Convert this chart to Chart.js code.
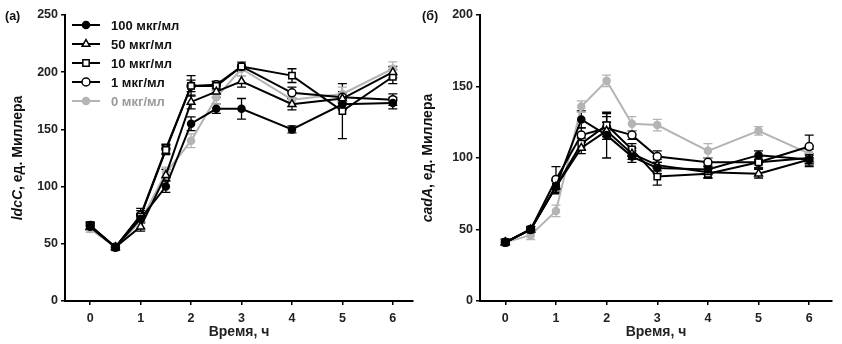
<!DOCTYPE html>
<html>
<head>
<meta charset="utf-8">
<script src="https://cdn.jsdelivr.net/npm/chart.js@4/dist/chart.umd.min.js"></script>
<style>
  body { margin: 0; background: #fff; }
  .panel { position: absolute; top: 0; }
</style>
</head>
<body>
<div class="panel" style="left:0"><canvas id="chart_ldc" width="420" height="344"></canvas></div>
<div class="panel" style="left:420px"><canvas id="chart_cad" width="422" height="344"></canvas></div>
<script>
// time points, hours
const times = [0, 0.5, 1, 1.5, 2, 2.5, 3, 4, 5, 6]
const xTicks = [0, 1, 2, 3, 4, 5, 6]
const seriesNames = ['100 мкг/мл', '50 мкг/мл', '10 мкг/мл', '1 мкг/мл', '0 мкг/мл']

// (a) ldcC, Miller units
const ldcTicks = [0, 50, 100, 150, 200, 250]
const ldc100 = [65, 47, 72, 100, 155, 168, 168, 150, 172, 173]
const ldc50 = [65, 47, 65, 110, 174, 183, 192, 172, 177, 200]
const ldc10 = [66, 47, 74, 132, 188, 188, 205, 197, 166, 196]
const ldc1 = [66, 47, 75, 133, 188, 189, 205, 182, 178, 176]
const ldc0 = [63, 47, 70, 112, 140, 178, 203, 176, 181, 203]
const ldc100Err = [3, 2, 4, 5, 6, 4, 9, 3, 5, 5]
const ldc50Err = [3, 2, 4, 5, 6, 5, 5, 5, 4, 5]
const ldc10Err = [3, 2, 5, 4, 9, 4, 4, 6, 24, 6]
const ldc1Err = [3, 2, 6, 4, 5, 3, 4, 5, 5, 5]
const ldc0Err = [3, 2, 6, 5, 6, 6, 6, 6, 6, 6]

// (б) cadA, Miller units
const cadTicks = [0, 50, 100, 150, 200]
const cad100 = [41, 50, 80, 127, 116, 101, 93, 92, 102, 99]
const cad50 = [41, 50, 80, 107, 119, 103, 95, 90, 89, 99]
const cad10 = [41, 50, 80, 110, 123, 106, 87, 89, 97, 100]
const cad1 = [41, 50, 85, 116, 121, 116, 101, 97, 97, 108]
const cad0 = [41, 46, 63, 136, 154, 124, 123, 105, 119, 103]
const cad100Err = [2, 2, 5, 6, 16, 4, 4, 3, 3, 3]
const cad50Err = [2, 2, 4, 4, 6, 4, 4, 4, 3, 4]
const cad10Err = [2, 2, 4, 4, 8, 4, 6, 3, 4, 6]
const cad1Err = [2, 2, 9, 5, 8, 3, 4, 3, 4, 8]
const cad0Err = [2, 3, 4, 4, 4, 5, 4, 5, 3, 4]

const FONT = '"Liberation Sans", Arial, sans-serif'
const GRAY = '#b4b4b4'

// marker look per series, same order as seriesNames
const styles = [
  { color: '#000', fill: '#000', point: 'circle', radius: 3.5 },
  { color: '#000', fill: '#fff', point: 'triangle', radius: 4.5 },
  { color: '#000', fill: '#fff', point: 'rect', radius: 4.5 },
  { color: '#000', fill: '#fff', point: 'circle', radius: 4 },
  { color: GRAY, fill: GRAY, point: 'circle', radius: 3.5 },
]

/**
 * Draws vertical error bars under the points.
 */
const errorBars = {
  id: 'errorBars',
  beforeDatasetsDraw(chart) {
    const ctx = chart.ctx
    const yScale = chart.scales.y
    chart.data.datasets.forEach((ds, i) => {
      if (!ds.errors) return
      const meta = chart.getDatasetMeta(i)
      ctx.save()
      ctx.strokeStyle = ds.borderColor
      ctx.lineWidth = 1.3
      meta.data.forEach((pt, j) => {
        const v = ds.data[j].y
        const top = yScale.getPixelForValue(v + ds.errors[j])
        const bottom = yScale.getPixelForValue(v - ds.errors[j])
        ctx.beginPath()
        ctx.moveTo(pt.x, top)
        ctx.lineTo(pt.x, bottom)
        ctx.moveTo(pt.x - 4.5, top)
        ctx.lineTo(pt.x + 4.5, top)
        ctx.moveTo(pt.x - 4.5, bottom)
        ctx.lineTo(pt.x + 4.5, bottom)
        ctx.stroke()
      })
      ctx.restore()
    })
  }
}

/**
 * Rotated y title (gene name in italics), panel letter and the legend box.
 */
const extras = {
  id: 'extras',
  afterDraw(chart, args, opts) {
    const ctx = chart.ctx
    const area = chart.chartArea
    ctx.save()
    ctx.fillStyle = '#111'
    ctx.textBaseline = 'middle'

    // panel letter
    ctx.font = 'bold 12.5px ' + FONT
    ctx.textAlign = 'left'
    ctx.fillText(opts.panel, opts.panelX, 17)

    // y title
    const italic = 'italic bold 14px ' + FONT
    const plain = 'bold 14px ' + FONT
    ctx.font = italic
    const w1 = ctx.measureText(opts.gene).width
    ctx.font = plain
    const w2 = ctx.measureText(opts.unit).width
    ctx.translate(opts.titleX, (area.top + area.bottom) / 2)
    ctx.rotate(-Math.PI / 2)
    let x = -(w1 + w2) / 2
    ctx.font = italic
    ctx.fillText(opts.gene, x, 0)
    ctx.font = plain
    ctx.fillText(opts.unit, x + w1, 0)
    ctx.setTransform(1, 0, 0, 1, 0, 0)

    // legend
    if (opts.legend) {
      chart.data.datasets.forEach((ds, i) => {
        const y = area.top + 10 + i * 19
        const x0 = area.left + 7
        ctx.strokeStyle = ds.borderColor
        ctx.lineWidth = 2
        ctx.beginPath()
        ctx.moveTo(x0, y)
        ctx.lineTo(x0 + 28, y)
        ctx.stroke()
        ctx.fillStyle = ds.pointBackgroundColor
        ctx.lineWidth = 1.5
        Chart.helpers.drawPoint(ctx, { pointStyle: ds.pointStyle, radius: ds.pointRadius, borderWidth: 1.5, rotation: 0 }, x0 + 14, y)
        ctx.fillStyle = ds.borderColor === GRAY ? '#9a9a9a' : '#111'
        ctx.font = 'bold 13px ' + FONT
        ctx.textAlign = 'left'
        ctx.fillText(ds.label, x0 + 39, y + 1)
      })
    }
    ctx.restore()
  }
}

function makeDatasets(values, errors) {
  return values.map((vals, i) => ({
    label: seriesNames[i],
    data: times.map((t, j) => ({ x: t, y: vals[j] })),
    errors: errors[i],
    borderColor: styles[i].color,
    backgroundColor: styles[i].fill,
    pointBackgroundColor: styles[i].fill,
    pointBorderColor: styles[i].color,
    pointStyle: styles[i].point,
    pointRadius: styles[i].radius,
    pointBorderWidth: 1.5,
    borderWidth: 2,
    tension: 0,
  }))
}

function makeChart(id, datasets, yTicks, xMax, yWidth, padRight, extraOpts) {
  const tickFont = { family: FONT, size: 12.5, weight: 'bold' }
  return new Chart(id, {
    type: 'line',
    data: { datasets: datasets },
    plugins: [errorBars, extras],
    options: {
      responsive: false,
      animation: false,
      layout: { padding: { top: 15, right: padRight, bottom: 0, left: 0 } },
      plugins: {
        legend: { display: false },
        tooltip: { enabled: false },
        extras: extraOpts,
      },
      scales: {
        x: {
          type: 'linear',
          min: -0.5,
          max: xMax,
          afterBuildTicks: (s) => { s.ticks = xTicks.map(v => ({ value: v })) },
          afterFit: (s) => { s.height = 43 },
          grid: { drawOnChartArea: false, color: '#000', lineWidth: 1.5, tickLength: 4 },
          border: { color: '#000', width: 2 },
          ticks: { color: '#222', font: tickFont, padding: 6 },
          title: { display: true, text: 'Время, ч', color: '#222', font: { family: FONT, size: 14, weight: 'bold' }, padding: { top: 0, bottom: 3 } },
        },
        y: {
          type: 'linear',
          min: 0,
          max: yTicks[yTicks.length - 1],
          afterBuildTicks: (s) => { s.ticks = yTicks.map(v => ({ value: v })) },
          afterFit: (s) => { s.width = yWidth },
          grid: { drawOnChartArea: false, color: '#000', lineWidth: 1.5, tickLength: 4 },
          border: { color: '#000', width: 2 },
          ticks: { color: '#222', font: tickFont, padding: 3 },
        },
      },
    },
  })
}

makeChart('chart_ldc',
  makeDatasets([ldc100, ldc50, ldc10, ldc1, ldc0], [ldc100Err, ldc50Err, ldc10Err, ldc1Err, ldc0Err]),
  ldcTicks, 6.4, 65, 7,
  { panel: '(a)', panelX: 5, gene: 'ldcC', unit: ', ед. Миллера', titleX: 18, legend: true })

makeChart('chart_cad',
  makeDatasets([cad100, cad50, cad10, cad1, cad0], [cad100Err, cad50Err, cad10Err, cad1Err, cad0Err]),
  cadTicks, 6.45, 60, 10,
  { panel: '(б)', panelX: 2, gene: 'cadA', unit: ', ед. Миллера', titleX: 8, legend: false })
</script>
</body>
</html>
